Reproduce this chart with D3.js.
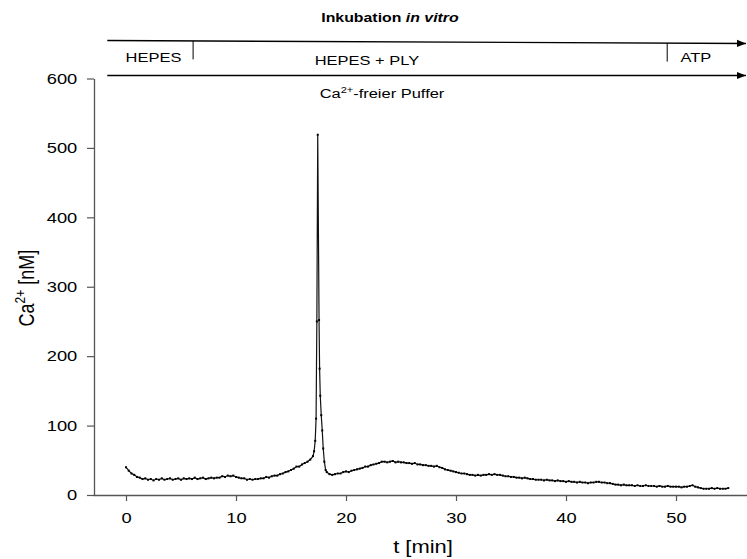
<!DOCTYPE html>
<html>
<head>
<meta charset="utf-8">
<script src="https://cdn.jsdelivr.net/npm/d3@7"></script>
<style>
  body { margin: 0; background: #fff; }
  svg { font-family: "Liberation Sans", Arial, sans-serif; }
</style>
</head>
<body>
<div id="chart"></div>
<script>
// DATA
// time in minutes
const timeMin = [
  0, 0.25, 0.5, 0.75, 1, 1.25, 1.5, 1.75, 2, 2.25, 2.5, 2.75, 3, 3.25, 3.5, 3.75,
  4, 4.25, 4.5, 4.75, 5, 5.25, 5.5, 5.75, 6, 6.25, 6.5, 6.75, 7, 7.25, 7.5, 7.75,
  8, 8.25, 8.5, 8.75, 9, 9.25, 9.5, 9.75, 10, 10.25, 10.5, 10.75, 11, 11.25, 11.5, 11.75,
  12, 12.25, 12.5, 12.75, 13, 13.25, 13.5, 13.75, 14, 14.25, 14.5, 14.75, 15, 15.25, 15.5, 15.75,
  16, 16.25, 16.5, 16.75, 17, 17.1, 17.2, 17.28, 17.35, 17.43, 17.55, 17.6, 17.66, 17.75, 17.84, 17.93,
  18.03, 18.15, 18.25, 18.5, 18.75, 19, 19.25, 19.5, 19.75, 20, 20.25, 20.5, 20.75, 21, 21.25, 21.5,
  21.75, 22, 22.25, 22.5, 22.75, 23, 23.25, 23.5, 23.75, 24, 24.25, 24.5, 24.75, 25, 25.25, 25.5,
  25.75, 26, 26.25, 26.5, 26.75, 27, 27.25, 27.5, 27.75, 28, 28.25, 28.5, 28.75, 29, 29.25, 29.5,
  29.75, 30, 30.25, 30.5, 30.75, 31, 31.25, 31.5, 31.75, 32, 32.25, 32.5, 32.75, 33, 33.25, 33.5,
  33.75, 34, 34.25, 34.5, 34.75, 35, 35.25, 35.5, 35.75, 36, 36.25, 36.5, 36.75, 37, 37.25, 37.5,
  37.75, 38, 38.25, 38.5, 38.75, 39, 39.25, 39.5, 39.75, 40, 40.25, 40.5, 40.75, 41, 41.25, 41.5,
  41.75, 42, 42.25, 42.5, 42.75, 43, 43.25, 43.5, 43.75, 44, 44.25, 44.5, 44.75, 45, 45.25, 45.5,
  45.75, 46, 46.25, 46.5, 46.75, 47, 47.25, 47.5, 47.75, 48, 48.25, 48.5, 48.75, 49, 49.25, 49.5,
  49.75, 50, 50.25, 50.5, 50.75, 51, 51.25, 51.5, 51.75, 52, 52.25, 52.5, 52.75, 53, 53.25, 53.5,
  53.75, 54, 54.25, 54.5, 54.75
];
// Ca2+ concentration in nM
const caNM = [
  40, 35, 31, 29, 26, 25, 23, 24, 22, 23, 21, 23, 22, 24, 22, 23,
  24, 22, 23, 24, 22, 24, 23, 24, 23, 25, 23, 24, 25, 23, 24, 25,
  24, 25, 25, 27, 26, 28, 27, 28, 26, 25, 24, 24, 22, 23, 22, 23,
  23, 24, 24, 26, 25, 27, 28, 28, 30, 31, 33, 34, 36, 38, 41, 41,
  44, 46, 48, 51, 56, 63, 78, 110, 250, 519, 252, 182, 143, 115, 93, 67,
  48, 36, 33, 30, 29, 30, 31, 31, 33, 34, 33, 35, 36, 37, 38, 39,
  41, 41, 43, 44, 45, 46, 48, 48, 47, 48, 49, 47, 48, 47, 47, 46,
  46, 45, 46, 44, 44, 43, 43, 42, 42, 41, 42, 40, 39, 37, 36, 35,
  34, 33, 32, 31, 31, 30, 29, 29, 28, 29, 28, 29, 29, 30, 29, 30,
  29, 29, 28, 27, 27, 26, 26, 25, 25, 24, 25, 24, 23, 23, 22, 22,
  22, 21, 22, 21, 21, 20, 21, 20, 20, 19, 20, 19, 19, 18, 19, 18,
  18, 17, 18, 18, 19, 19, 18, 18, 17, 17, 16, 15, 15, 14, 15, 14,
  14, 14, 13, 14, 13, 13, 14, 13, 13, 13, 12, 13, 12, 12, 13, 12,
  12, 12, 12, 11, 12, 12, 13, 14, 12, 11, 10, 9, 9, 9, 10, 9,
  10, 9, 9, 9, 10
];

const xTicks = [0, 10, 20, 30, 40, 50];
const yTicks = [0, 100, 200, 300, 400, 500, 600];
// phase boundaries (min) and labels of the incubation bar
const phaseSwitchMin = [6.1, 49.2];
const phaseLabels = ["HEPES", "HEPES + PLY", "ATP"];
const phaseLabelMin = [2.5, 21.9, 51.8];
const arrowStartMin = -1.7;

const width = 747;
const height = 559;
// the original figure is stretched horizontally, text included
const SX = 1.22;

const x = d3.scaleLinear().domain([-3, 57]).range([93, 753]);
const y = d3.scaleLinear().domain([0, 600]).range([495, 78.5]);

const svg = d3.select("#chart").append("svg")
  .attr("width", width)
  .attr("height", height);

svg.append("defs").append("marker")
  .attr("id", "arrow")
  .attr("viewBox", "0 0 10 10")
  .attr("refX", 10).attr("refY", 5)
  .attr("markerWidth", 10).attr("markerHeight", 9)
  .attr("markerUnits", "userSpaceOnUse")
  .attr("orient", "auto")
  .append("path").attr("d", "M0,1L10,5L0,9Z").attr("fill", "#000");

// stretched text helper
function label(px, py, size, anchor) {
  return svg.append("g")
    .attr("transform", `translate(${px},${py}) scale(${SX},1)`)
    .append("text")
    .attr("text-anchor", anchor || "middle")
    .style("font-size", size + "px");
}

// axes
const axisColor = "#555";
const gx = svg.append("g")
  .attr("transform", `translate(0,${y(0)})`)
  .call(d3.axisBottom(x).tickValues(xTicks).tickSize(6).tickSizeOuter(0).tickPadding(11.5));
const gy = svg.append("g")
  .attr("transform", `translate(${x(-3) + 1},0)`)
  .call(d3.axisLeft(y).tickValues(yTicks).tickSize(7).tickSizeOuter(0));

[gx, gy].forEach(g => {
  g.select(".domain").attr("stroke", axisColor).attr("stroke-width", 1.3);
  g.selectAll(".tick line").attr("stroke", axisColor).attr("stroke-width", 1.2);
  g.selectAll(".tick text").attr("fill", "#000").style("font-size", "15px")
    .attr("transform", `scale(${SX},1)`);
});
gy.selectAll(".tick text").attr("x", -16.7 / SX);

label(x(27), 553, 18).text("t [min]");

const yl = svg.append("g")
  .attr("transform", `translate(34,${y(298)}) scale(${SX},1) rotate(-90)`)
  .append("text")
  .attr("text-anchor", "middle")
  .style("font-size", "18px");
yl.append("tspan").text("Ca");
yl.append("tspan").attr("dy", -7).style("font-size", "12px").text("2+");
yl.append("tspan").attr("dy", 7).text(" [nM]");

// trace
const pts = timeMin.map((t, i) => [t, caNM[i]]);
svg.append("path")
  .datum(pts)
  .attr("fill", "none")
  .attr("stroke", "#111")
  .attr("stroke-width", 1.2)
  .attr("d", d3.line().x(d => x(d[0])).y(d => y(d[1])));
svg.append("g").selectAll("rect")
  .data(pts)
  .join("rect")
  .attr("x", d => x(d[0]) - 1)
  .attr("y", d => y(d[1]) - 1)
  .attr("width", 2).attr("height", 2)
  .attr("fill", "#000");

// incubation bar
label(390, 22, 13).style("font-weight", "bold")
  .call(t => {
    t.append("tspan").text("Inkubation ");
    t.append("tspan").style("font-style", "italic").text("in vitro");
  });

svg.append("line")
  .attr("x1", x(arrowStartMin)).attr("y1", 40.5)
  .attr("x2", width - 1).attr("y2", 43.5)
  .attr("stroke", "#000").attr("stroke-width", 1.4)
  .attr("marker-end", "url(#arrow)");
svg.append("line")
  .attr("x1", x(arrowStartMin)).attr("y1", 75.5)
  .attr("x2", width - 1).attr("y2", 75.5)
  .attr("stroke", "#000").attr("stroke-width", 1.6)
  .attr("marker-end", "url(#arrow)");

const topY = t => 40.5 + 3 * (x(t) - x(arrowStartMin)) / (width - 1 - x(arrowStartMin));
svg.selectAll(".phase")
  .data(phaseSwitchMin)
  .join("line")
  .attr("x1", d => x(d)).attr("x2", d => x(d))
  .attr("y1", d => topY(d)).attr("y2", d => topY(d) + 18.5)
  .attr("stroke", "#000").attr("stroke-width", 1);

phaseLabels.forEach((d, i) => {
  label(x(phaseLabelMin[i]), i === 1 ? 65 : 61.5, 13.5).text(d);
});

const ca = label(382, 98, 13.5);
ca.append("tspan").text("Ca");
ca.append("tspan").attr("dy", -5).style("font-size", "9px").text("2+");
ca.append("tspan").attr("dy", 5).text("-freier Puffer");
</script>
</body>
</html>
